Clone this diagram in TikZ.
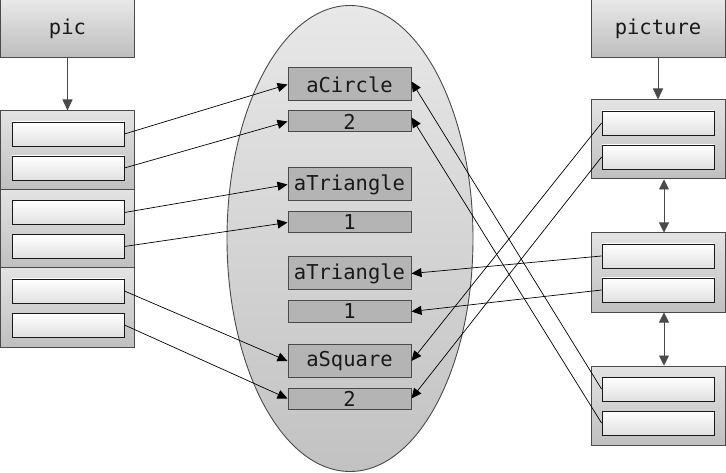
\documentclass[tikz,border=0pt]{standalone}
\usepackage{fontspec}
\setmonofont{DejaVu Sans Mono}
\usetikzlibrary{arrows.meta}
\definecolor{edge}{HTML}{4A4A4A}
\definecolor{objfill}{HTML}{B4B4B4}
\tikzset{
  lbl/.style={font=\ttfamily\fontsize{20.5}{22}\selectfont, text=black!90},
  topbox/.style={lbl, draw=edge, line width=1pt, top color=black!9, bottom color=black!26, minimum width=134pt, minimum height=58pt, inner sep=0pt},
  groupbox/.style={draw=edge, line width=1pt, top color=black!11, bottom color=black!25, minimum width=134pt, minimum height=78pt, inner sep=0pt},
  field/.style={draw=black!90, line width=0.9pt, top color=white, bottom color=black!12, minimum width=112pt, minimum height=24pt, inner sep=0pt},
  objbox/.style={lbl, draw=edge, line width=1pt, fill=objfill, minimum width=123pt, inner sep=0pt},
  bigobj/.style={objbox, minimum height=33pt},
  smallobj/.style={objbox, minimum height=21pt},
  conn/.style={line width=0.7pt, black, -{Triangle[length=10pt,width=9pt]}},
  dbl/.style={line width=0.9pt, edge, {Triangle[length=10pt,width=10pt]}-{Triangle[length=10pt,width=10pt]}},
  down/.style={line width=0.9pt, edge, -{Triangle[length=11pt,width=10pt]}},
}
\begin{document}
\begin{tikzpicture}[x=1pt,y=-1pt]
\useasboundingbox (0,0) rectangle (726,473);
% ellipse
\draw[edge, line width=0.9pt, top color=black!9, bottom color=black!24] (350,238.5) ellipse [x radius=123, y radius=233];

% left side
\node[topbox] (pic) at (67.5,29) {pic};
\node[groupbox, minimum height=79pt] (lg1) at (67.5,150.5) {};
\node[groupbox] (lg2) at (67.5,229) {};
\node[groupbox, minimum height=79pt] (lg3) at (67.5,307.5) {};
\node[field] (lf1) at (68,134) {};
\node[field] (lf2) at (68,168) {};
\node[field] (lf3) at (68,212.5) {};
\node[field] (lf4) at (68,246.5) {};
\node[field] (lf5) at (68,291) {};
\node[field] (lf6) at (68,325) {};

% middle objects
\node[bigobj] (circ) at (349.5,84.5) {aCircle};
\node[smallobj] (twoA) at (349.5,121.5) {2};
\node[bigobj] (triA) at (349.5,184.5) {aTriangle};
\node[smallobj] (oneA) at (349.5,222.5) {1};
\node[bigobj] (triB) at (349.5,273.5) {aTriangle};
\node[smallobj] (oneB) at (349.5,311.5) {1};
\node[bigobj] (sq) at (349.5,361) {aSquare};
\node[smallobj] (twoB) at (349.5,398.5) {2};

% right side
\node[topbox] (picture) at (658,29) {picture};
\node[groupbox, minimum height=79pt] (rg1) at (658,139.5) {};
\node[groupbox, minimum height=79pt] (rg2) at (658,272.5) {};
\node[groupbox, minimum height=79pt] (rg3) at (658,405.5) {};
\node[field] (rf1) at (658,123) {};
\node[field] (rf2) at (658,157) {};
\node[field] (rf3) at (658,256) {};
\node[field] (rf4) at (658,290) {};
\node[field] (rf5) at (658,389) {};
\node[field] (rf6) at (658,423) {};

% vertical arrows
\draw[down] (pic.south) -- (lg1.north);
\draw[down] (picture.south) -- (rg1.north);
\draw[dbl] ([xshift=6pt]rg1.south) -- ([xshift=6pt]rg2.north);
\draw[dbl] ([xshift=6pt]rg2.south) -- ([xshift=6pt]rg3.north);

% left connectors
\draw[conn] (lf1.east) -- (circ.west);
\draw[conn] (lf2.east) -- (twoA.west);
\draw[conn] (lf3.east) -- (triA.west);
\draw[conn] (lf4.east) -- (oneA.west);
\draw[conn] (lf5.east) -- (sq.west);
\draw[conn] (lf6.east) -- (twoB.west);

% right connectors
\draw[conn] (rf1.west) -- (sq.east);
\draw[conn] (rf2.west) -- (twoB.east);
\draw[conn] (rf3.west) -- (triB.east);
\draw[conn] (rf4.west) -- (oneB.east);
\draw[conn] (rf5.west) -- ([yshift=3pt]circ.east);
\draw[conn] (rf6.west) -- ([yshift=4pt]twoA.east);
\end{tikzpicture}
\end{document}
